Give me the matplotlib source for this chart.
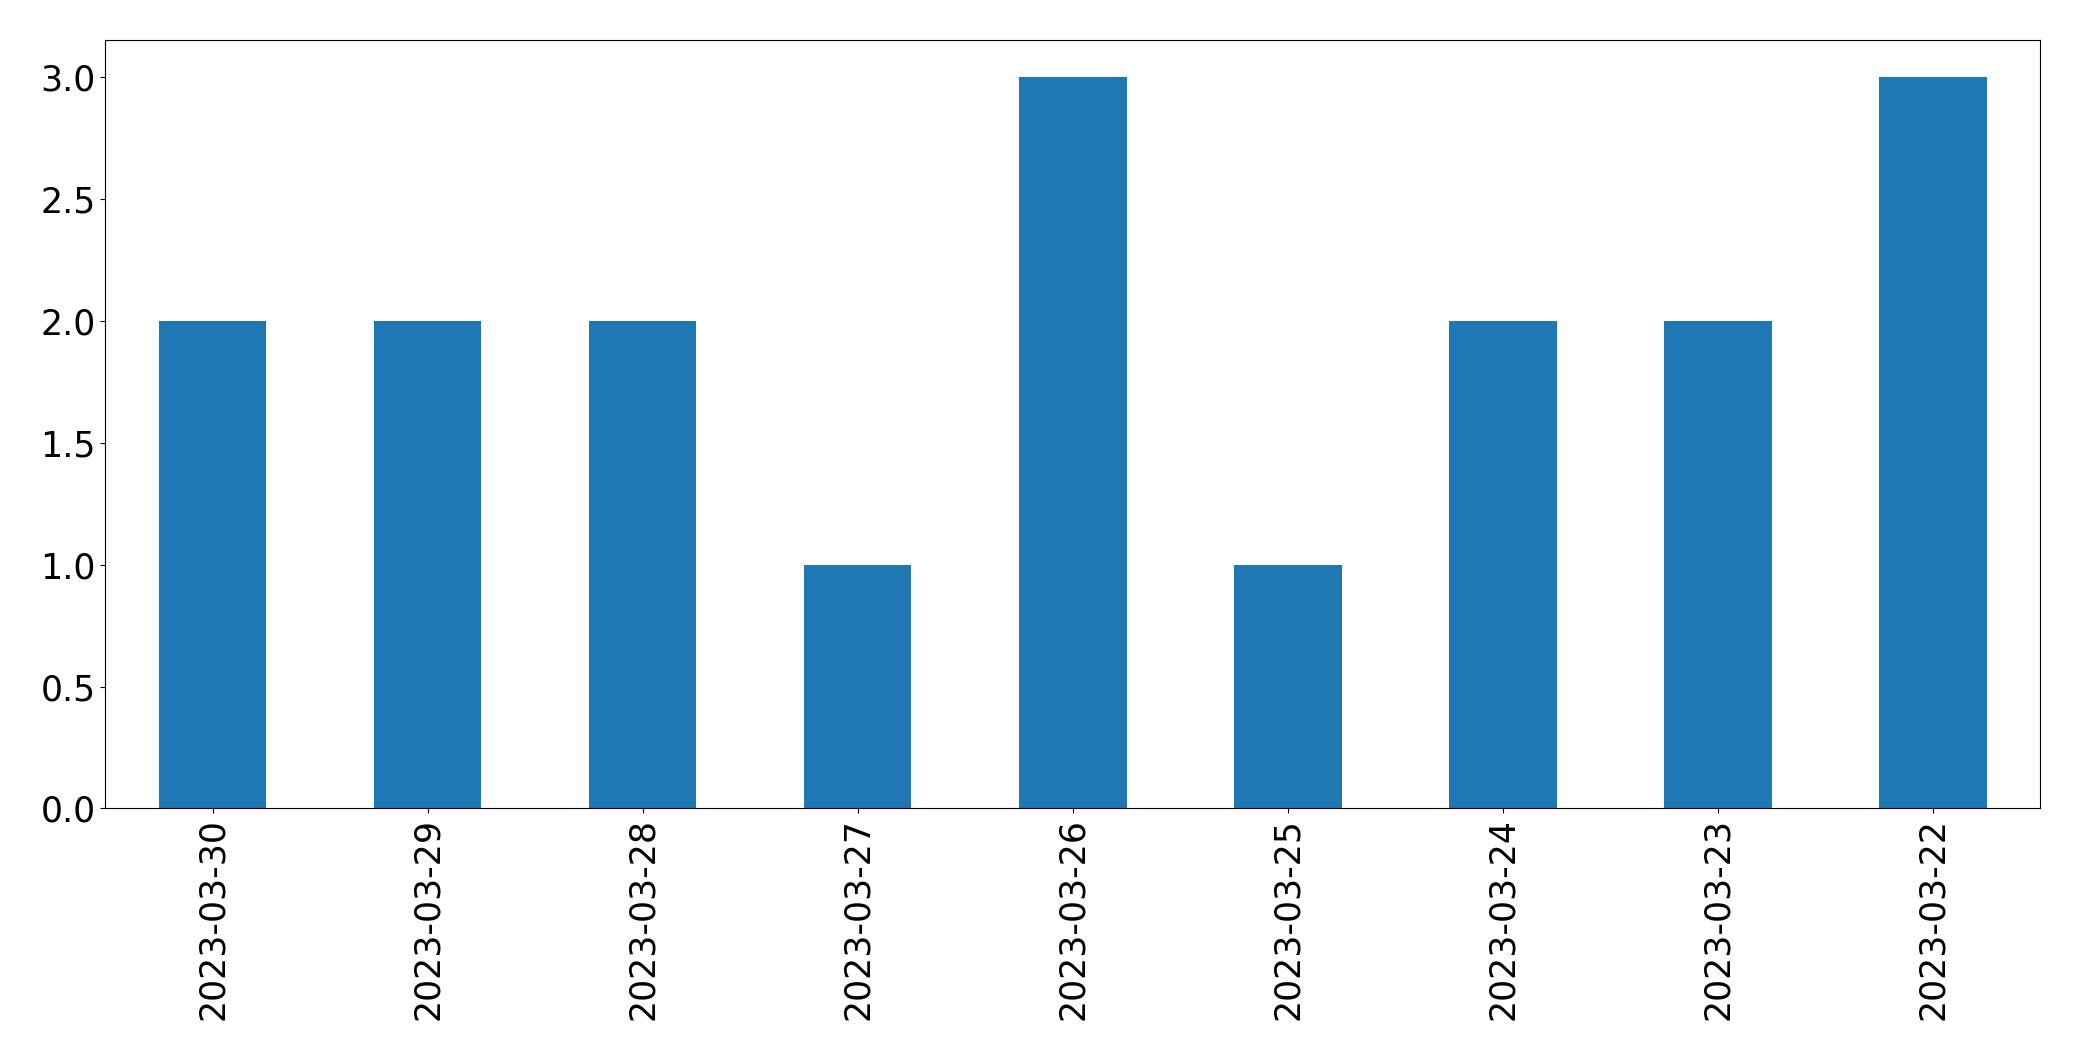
import matplotlib
matplotlib.use('Agg')
import matplotlib.pyplot as plt
import pandas as pd

# contagem por data
datas = ['2023-03-30', '2023-03-29', '2023-03-28', '2023-03-27', '2023-03-26',
         '2023-03-25', '2023-03-24', '2023-03-23', '2023-03-22']
contagem = [2, 2, 2, 1, 3, 1, 2, 2, 3]

serie = pd.Series(contagem, index=datas)

fig, ax = plt.subplots(figsize=(20.82, 10.61), dpi=100)
serie.plot(kind='bar', ax=ax, color='#1f77b4', fontsize=25)
ax.tick_params(axis='x', labelrotation=90)
plt.subplots_adjust(left=0.0505, right=0.980, top=0.962, bottom=0.238)
fig.savefig('out.png')
